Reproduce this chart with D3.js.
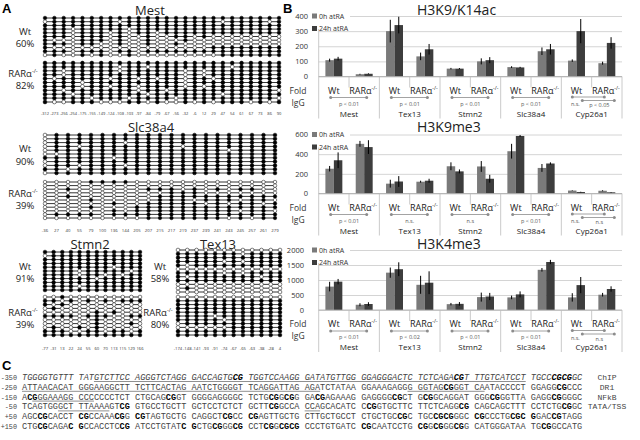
<!DOCTYPE html>
<html>
<head>
<meta charset="utf-8">
<script src="https://cdn.jsdelivr.net/npm/d3@7"></script>
<style>
  body { margin: 0; background: #fff; }
  svg text { font-family: "Open Sans", "Noto Sans", sans-serif; fill: #222; }
  svg text.mono { font-family: "Liberation Mono", "DejaVu Sans Mono", monospace; fill: #444; }
</style>
</head>
<body>
<svg width="640" height="440"></svg>
<script>
// ---------- A: bisulfite sequencing (1 = methylated CpG, 0 = unmethylated)
const mestSites = ['-312', '-273', '-256', '-254', '-175', '-155', '-149', '-124', '-108', '-103', '-97', '-84', '-79', '-67', '-56', '-32', '-6', '12', '29', '47', '54', '61', '67', '73', '86', '90'];
const mestWt = [
    '11111111111111111111111111',
    '01111111011111111110111101',
    '11111111111111111111111111',
    '11101111101111111111111111',
    '11101110101101111111111111',
    '11101110100100110100000000',
    '10001110100100010000000000',
    '11101100100100100000000000',
    '10000000000000000011111111',
    '11101110110111111111111111',
    '01001010010000000001111111',
];
const mestKo = [
    '11111111111111111111111111',
    '11111111011011111111011111',
    '11011111011111101011111111',
    '11011111111111101011111111',
    '10111110110101101101111111',
    '11110111111111101111111111',
    '11110110110111101011111111',
    '11011111110110111111111110',
    '11101111111011111110111111',
    '11111011101111011111111110',
    '10011100011010010101110101',
];
const mestPct = ['60%', '82%'];

const slcSites = ['-36', '27', '40', '55', '79', '100', '136', '144', '205', '207', '215', '217', '219', '237', '239', '241', '243', '245', '257', '261', '279'];
const slcWt = [
    '011111111111111111111',
    '011111111111111111111',
    '011111101111111111111',
    '011011111111011111111',
    '011111111111111101111',
    '001111111111111111111',
    '111111011111111111111',
    '011111111111111111111',
    '011011101111111111111',
    '110111111111111111111',
    '011111111111111111111',
];
const slcKo = [
    '000011110000000000000',
    '000000000000000000000',
    '001000000111010101100',
    '000000000001110000000',
    '001000000011111111111',
    '000010000011101110110',
    '000000100111110101101',
    '000010001111111111111',
    '000000101111111110110',
    '011110111111111111111',
    '000000000111111101011',
];
const slcPct = ['90%', '39%'];

const stmnSites = ['-77', '-31', '13', '22', '24', '55', '60', '70', '113', '115', '129', '166'];
const stmnWt = [
    '111111111111',
    '011111111111',
    '111111111111',
    '111111111111',
    '111111110111',
    '111101111101',
    '111101101011',
    '111111011111',
    '111111111111',
    '111101111111',
    '111111111111',
];
const stmnKo = [
    '001000000000',
    '110101010111',
    '101000000000',
    '010000000000',
    '000000101000',
    '111101110011',
    '000000100000',
    '000000100010',
    '010010100000',
    '111001101101',
    '111111111111',
];
const stmnPct = ['91%', '39%'];

const texSites = ['-174', '-148', '-141', '-93', '-91', '-74', '-67', '-65', '-63', '-38', '-28', '4'];
const texWt = [
    '000000000000',
    '111111101111',
    '111111111111',
    '111110101111',
    '101111111111',
    '000000000000',
    '111110101111',
    '101111111011',
    '111111111111',
    '000000000000',
    '010000000000',
    '000000000000',
];
const texKo = [
    '000000000000',
    '111111111111',
    '111111111111',
    '111111111111',
    '111111111111',
    '111101111111',
    '111110111111',
    '011111111111',
    '000000111111',
    '111111111111',
    '111111111111',
];
const texPct = ['58%', '80%'];

// ---------- B: ChIP fold over IgG (order: gene x genotype)
const genes = ['Mest', 'Tex13', 'Stmn2', 'Slc38a4', 'Cyp26a1'];
const genotypes = ['Wt', 'RARα'];
const series = ['0h atRA', '24h atRA'];

const acTicks = [0, 100, 200, 300, 400];
const ac0h = [108, 15, 300, 133, 52, 100, 62, 167, 105, 88];
const ac24h = [118, 18, 340, 180, 52, 108, 60, 180, 300, 222];
const acErr0h = [10, 3, 75, 25, 5, 20, 6, 25, 8, 10];
const acErr24h = [12, 3, 55, 35, 4, 20, 4, 35, 80, 38];
const acP = ['p < 0.01', 'p < 0.01', 'p < 0.01', 'p < 0.01', ['n.s.', 'p < 0.05']];

const me3Ticks = [0, 200, 400, 600];
const me30h = [252, 505, 100, 120, 277, 275, 430, 260, 30, 28];
const me324h = [338, 472, 122, 130, 225, 150, 585, 305, 15, 12];
const me3Err0h = [28, 30, 40, 10, 40, 55, 75, 40, 3, 5];
const me3Err24h = [80, 70, 55, 20, 20, 40, 10, 12, 3, 3];
const me3P = ['p < 0.01', 'n.s.', 'n.s', 'p < 0.01', ['n.s.', 'n.s']];

const k4Ticks = [0, 500, 1000, 1500, 2000];
const k40h = [780, 175, 1245, 840, 195, 430, 420, 1340, 420, 510];
const k424h = [945, 200, 1360, 910, 205, 450, 520, 1600, 830, 700];
const k4Err0h = [160, 50, 170, 300, 40, 150, 60, 60, 140, 60];
const k4Err24h = [90, 60, 230, 380, 60, 120, 100, 70, 270, 90];
const k4P = ['p < 0.01', 'p < 0.02', 'p < 0.01', 'p < 0.01', ['n.s.', 'n.s']];

// ---------- C: promoter sequence
const seqStarts = ['-350', '-250', '-150', '-50', '+50', '+150'];
const seqRows = [
    'TGGGGTGTTT TATGTCTTCC AGGGTCTAGG GACCAGTGCG TGGTCCAAGG GATATGTTGG GGAGGGACTC TCTCAGACGT TTGTCATCCT TGCCCGCGGC',
    'ATTAACACAT GGGAAGGCTT TCTTCACTAG AATCTGGGGT TCAGGATTAG AGATCTATAA GGAAAGAGGG GGTAGCGGGT CAATACCCCT GGAGGCGCCC',
    'ACGGGAAAGG CCCCCCCTCT CTGCAGCGGT GGGGAGGGGC TCTGCGGCGG GACGAGAAAG GAGGGGCGCT GCGGCAGGAT GGGCGGGTTA GAGGCGGGGC',
    'TCAGTGGGCT TTAAAAGTCG GTGCCTGCTT GCTCCTCTCT GCTTCGGCCA CCAGCACATC CCGGTGCTTC TTCTCAGGCG CAGCAGCTTT CCTCTGCGGC',
    'AGCCGCACCT CGCCAAACGG CGTAGTGCTG CAGGCTCGCC CGAGTTGCTG CTTGCTGCCT CTGCTGCCGC TGCCGCGGGC CGCCCTGCGC GGACCGTAGG',
    'CTGCGCAGAC GCCACCTCCG ATCCTGTATC GCTGCGGGCG CCTCGGCGCG CCCTGTGATC CGCAATCCTG CGGCGGGCGG CATGGGATAA TGCGGCCATG',
];
const seqNotes = ['ChIP', 'DR1', 'NFkB', 'TATA/TSS', '', ''];
const seqUnderline = [[[13, 89]], [[0, 52], [69, 81]], [[2, 12]], [[7, 15], [50, 52]], [], []];

const svg = d3.select('svg');

function panelLetter(t, x, y) {
    svg.append('text').attr('x', x).attr('y', y).text(t)
        .style('font-family', '"Liberation Sans", Arial, sans-serif')
        .style('font-weight', 'bold').style('font-size', '13px').style('fill', '#000');
}
panelLetter('A', 2, 13);
panelLetter('B', 283, 13);
panelLetter('C', 2, 370);

function koLabel(g, x, y, size) {
    const t = g.append('text').attr('x', x).attr('y', y).attr('text-anchor', 'middle')
        .style('font-size', size + 'px');
    t.append('tspan').text('RARα');
    t.append('tspan').text('-/-').attr('dy', -size * 0.4).style('font-size', (size * 0.6) + 'px');
    return t;
}

// ---------- A
const methPanels = [
    { title: 'Mest', sites: mestSites, wt: mestWt, ko: mestKo, pct: mestPct, x: [45, 279], wtY: [18, 55], koY: [63, 102], siteY: 114.5, titleX: 150, titleY: 15, labelX: 25, wtText: [35, 47], koText: [77, 89], siteSize: 4 },
    { title: 'Slc38a4', sites: slcSites, wt: slcWt, ko: slcKo, pct: slcPct, x: [45, 275], wtY: [135, 173], koY: [182, 218], siteY: 231.5, titleX: 151, titleY: 132, labelX: 25, wtText: [152, 165], koText: [197, 209], siteSize: 4.3 },
    { title: 'Stmn2', sites: stmnSites, wt: stmnWt, ko: stmnKo, pct: stmnPct, x: [45, 140], wtY: [252, 290], koY: [297, 335], siteY: 349.5, titleX: 90, titleY: 249, labelX: 25, wtText: [270, 282], koText: [316, 328], siteSize: 4.2 },
    { title: 'Tex13', sites: texSites, wt: texWt, ko: texKo, pct: texPct, x: [178, 280], wtY: [250, 292], koY: [297, 335], siteY: 349.5, titleX: 218, titleY: 249, labelX: 160, wtText: [270, 282], koText: [316, 328], siteSize: 4.2 },
];

methPanels.forEach((p) => {
    const g = svg.append('g').attr('class', 'meth');
    const x = d3.scalePoint().domain(d3.range(p.sites.length)).range(p.x);

    g.append('text').attr('x', p.titleX).attr('y', p.titleY).attr('text-anchor', 'middle')
        .style('font-size', '13px').text(p.title);

    [[p.wt, p.wtY], [p.ko, p.koY]].forEach(([rows, yr]) => {
        const y = d3.scalePoint().domain(d3.range(rows.length)).range(yr);
        const r = Math.min(y.step() * 0.49, x.step() * 0.3);
        const row = g.selectAll(null).data(rows).enter().append('g')
            .attr('transform', (d, i) => `translate(0,${y(i)})`);
        row.append('line')
            .attr('x1', x(0)).attr('x2', x(p.sites.length - 1))
            .attr('stroke', '#000').attr('stroke-width', 0.8);
        row.selectAll('circle').data((d) => d.split('')).enter().append('circle')
            .attr('cx', (d, j) => x(j)).attr('r', r)
            .attr('fill', (d) => (d === '1' ? '#000' : '#fff'))
            .attr('stroke', '#000').attr('stroke-width', 0.5);
    });

    g.selectAll('.site').data(p.sites).enter().append('text')
        .attr('class', 'site')
        .attr('x', (d, i) => x(i)).attr('y', p.siteY).attr('text-anchor', 'middle')
        .style('font-size', p.siteSize + 'px').style('fill', '#333').text((d) => d);

    g.append('text').attr('x', p.labelX).attr('y', p.wtText[0]).attr('text-anchor', 'middle')
        .style('font-size', '9.5px').text('Wt');
    g.append('text').attr('x', p.labelX).attr('y', p.wtText[1]).attr('text-anchor', 'middle')
        .style('font-size', '9.5px').text(p.pct[0]);
    koLabel(g, p.labelX - 2, p.koText[0], 9.5);
    g.append('text').attr('x', p.labelX).attr('y', p.koText[1]).attr('text-anchor', 'middle')
        .style('font-size', '9.5px').text(p.pct[1]);
});

// ---------- B
const chartPanels = [
    { title: 'H3K9/K14ac', ticks: acTicks, v0: ac0h, v24: ac24h, e0: acErr0h, e24: acErr24h, p: acP, top: 16, base: 76.5, titleY: 14.5, tickX: 308 },
    { title: 'H3K9me3', ticks: me3Ticks, v0: me30h, v24: me324h, e0: me3Err0h, e24: me3Err24h, p: me3P, top: 134.5, base: 193.5, titleY: 131.5, tickX: 308 },
    { title: 'H3K4me3', ticks: k4Ticks, v0: k40h, v24: k424h, e0: k4Err0h, e24: k4Err24h, p: k4P, top: 250, base: 310, titleY: 248.5, tickX: 304 },
];

const x0 = d3.scaleBand().domain(genes).range([318.7, 622]);
const x1 = d3.scaleBand().domain(genotypes).range([0, x0.bandwidth()]);
const x2 = d3.scaleBand().domain(series).range([0, x1.bandwidth()]).paddingOuter(0.79);
const color = d3.scaleOrdinal().domain(series).range(['#7a7a7a', '#3d3d3d']);
const [left, right] = x0.range();
const lineColor = '#bdbdbd';

chartPanels.forEach((p) => {
    const g = svg.append('g').attr('class', 'chip');
    const y = d3.scaleLinear().domain([0, d3.max(p.ticks)]).range([p.base, p.top]);

    g.append('text').attr('x', 417).attr('y', p.titleY)
        .style('font-size', '14px').text(p.title);

    // gridlines
    g.append('g').attr('transform', `translate(${left},0)`)
        .call(d3.axisLeft(y).tickValues(p.ticks).tickSize(-(right - left)).tickFormat(''))
        .call((a) => a.select('.domain').remove())
        .selectAll('line').attr('stroke', '#c9c9c9').attr('stroke-width', 0.8);

    // tick labels
    g.append('g').attr('transform', `translate(${p.tickX},0)`)
        .call(d3.axisLeft(y).tickValues(p.ticks).tickSize(0).tickPadding(0).tickFormat(d3.format('d')))
        .call((a) => a.select('.domain').remove())
        .selectAll('text').style('font-size', '7.5px').style('fill', '#333')
        .style('font-family', '"Open Sans", sans-serif');

    // bars
    const cells = genes.flatMap((gn, gi) => genotypes.map((gt, ti) => ({ gene: gn, geno: gt, k: gi * 2 + ti })));
    const bars = cells.flatMap((c) => series.map((s, si) => ({
        ...c,
        series: s,
        value: si ? p.v24[c.k] : p.v0[c.k],
        err: si ? p.e24[c.k] : p.e0[c.k],
    })));
    const bx = (d) => x0(d.gene) + x1(d.geno) + x2(d.series);

    g.selectAll('.bar').data(bars).enter().append('rect')
        .attr('class', 'bar')
        .attr('x', bx).attr('width', x2.bandwidth())
        .attr('y', (d) => y(d.value)).attr('height', (d) => y(0) - y(d.value))
        .attr('fill', (d) => color(d.series));

    g.selectAll('.err').data(bars).enter().append('line')
        .attr('class', 'err')
        .attr('x1', (d) => bx(d) + x2.bandwidth() / 2).attr('x2', (d) => bx(d) + x2.bandwidth() / 2)
        .attr('y1', (d) => y(d.value + d.err)).attr('y2', (d) => y(Math.max(0, d.value - d.err)))
        .attr('stroke', '#000').attr('stroke-width', 1);

    // axis frame and category separators
    g.append('line').attr('x1', left).attr('x2', left).attr('y1', p.top).attr('y2', p.base + 42)
        .attr('stroke', lineColor).attr('stroke-width', 0.8);
    g.append('line').attr('x1', left).attr('x2', right).attr('y1', y(0)).attr('y2', y(0))
        .attr('stroke', '#aaa').attr('stroke-width', 0.8);
    g.selectAll('.gsep').data(genes.slice(1).map((d) => x0(d)).concat([right])).enter().append('line')
        .attr('class', 'gsep')
        .attr('x1', (d) => d).attr('x2', (d) => d).attr('y1', p.base).attr('y2', p.base + 42)
        .attr('stroke', lineColor).attr('stroke-width', 0.8);
    g.selectAll('.isep').data(genes).enter().append('line')
        .attr('class', 'isep')
        .attr('x1', (d) => x0(d) + x1('RARα')).attr('x2', (d) => x0(d) + x1('RARα'))
        .attr('y1', p.base).attr('y2', p.base + 11)
        .attr('stroke', lineColor).attr('stroke-width', 0.8);

    // category labels
    cells.forEach((c) => {
        const cx = x0(c.gene) + x1(c.geno) + x1.bandwidth() / 2;
        if (c.geno === 'Wt') {
            g.append('text').attr('x', cx).attr('y', p.base + 17).attr('text-anchor', 'middle')
                .style('font-size', '9px').text('Wt');
        } else {
            koLabel(g, cx - 1, p.base + 17, 9);
        }
    });
    g.append('text').attr('x', 298).attr('y', p.base + 17).attr('text-anchor', 'middle')
        .style('font-size', '8.5px').style('fill', '#333').text('Fold');
    g.append('text').attr('x', 298).attr('y', p.base + 29).attr('text-anchor', 'middle')
        .style('font-size', '8.5px').style('fill', '#333').text('IgG');

    genes.forEach((gn, gi) => {
        const gx = x0(gn);
        const pv = p.p[gi];
        const links = Array.isArray(pv)
            ? [{ a: 11, b: 43, dy: 20.5 }, { a: 21, b: 53, dy: 24 }]
            : [{ a: 12, b: 48, dy: 21 }];
        links.forEach((l) => {
            g.append('line').attr('x1', gx + l.a).attr('x2', gx + l.b)
                .attr('y1', p.base + l.dy).attr('y2', p.base + l.dy)
                .attr('stroke', '#8c8c8c').attr('stroke-width', 0.8);
            g.selectAll(null).data([l.a, l.b]).enter().append('circle')
                .attr('cx', (d) => gx + d).attr('cy', p.base + l.dy).attr('r', 1.5)
                .attr('fill', '#8c8c8c');
        });
        if (Array.isArray(pv)) {
            g.append('text').attr('x', gx + 14).attr('y', p.base + 29.5).attr('text-anchor', 'middle')
                .style('font-size', '5.5px').style('fill', '#555').text(pv[0]);
            g.append('text').attr('x', gx + 38).attr('y', p.base + 30.5).attr('text-anchor', 'middle')
                .style('font-size', '5.5px').style('fill', '#555').text(pv[1]);
        } else {
            g.append('text').attr('x', gx + x0.bandwidth() / 2).attr('y', p.base + 29)
                .attr('text-anchor', 'middle')
                .style('font-size', '5.5px').style('fill', '#555').text(pv);
        }
        g.append('text').attr('x', gx + x0.bandwidth() / 2).attr('y', p.base + 40)
            .attr('text-anchor', 'middle').style('font-size', '8px').text(gn);
    });

    // legend
    const lg = g.append('g');
    lg.append('rect').attr('x', 310).attr('y', p.top - 5).attr('width', 40).attr('height', 18).attr('fill', '#fff');
    series.forEach((s, i) => {
        lg.append('rect').attr('x', 312).attr('y', p.top - 2.5 + i * 12.5).attr('width', 5).attr('height', 5)
            .attr('fill', color(s));
        lg.append('text').attr('x', 319).attr('y', p.top + 2.5 + i * 12.5)
            .style('font-size', '7px').style('fill', '#333').text(s);
    });
});

// ---------- C
const cw = 5.14;
const xs = d3.scaleLinear().domain([0, 109]).range([22, 22 + 109 * cw]);
const ys = d3.scalePoint().domain(d3.range(seqRows.length)).range([380, 429]);

seqRows.forEach((row, r) => {
    const bases = row.replace(/ /g, '');
    const bold = bases.split('').map((c, i) => (c === 'C' && bases[i + 1] === 'G') || (c === 'G' && bases[i - 1] === 'C'));
    const g = svg.append('g').attr('class', 'seq');

    g.append('text').attr('class', 'mono').attr('x', 17).attr('y', ys(r)).attr('text-anchor', 'end')
        .style('font-size', '6.8px').text(seqStarts[r]);

    d3.range(10).forEach((b) => {
        const t = g.append('text').attr('class', 'mono').attr('x', xs(b * 11)).attr('y', ys(r))
            .style('font-size', '8.55px').style('font-style', r === 0 ? 'italic' : 'normal');
        let i = b * 10;
        while (i < b * 10 + 10) {
            let j = i;
            while (j < b * 10 + 10 && bold[j] === bold[i]) j++;
            t.append('tspan').text(bases.slice(i, j))
                .style('font-weight', bold[i] ? 'bold' : 'normal')
                .style('fill', bold[i] ? '#000' : '#444');
            i = j;
        }
    });

    seqUnderline[r].forEach(([a, b]) => {
        g.append('line')
            .attr('x1', xs(a + Math.floor(a / 10))).attr('x2', xs(b + Math.floor(b / 10) + 1))
            .attr('y1', ys(r) + 1.5).attr('y2', ys(r) + 1.5)
            .attr('stroke', '#444').attr('stroke-width', 0.6);
    });

    g.append('text').attr('class', 'mono').attr('x', 607).attr('y', ys(r)).attr('text-anchor', 'middle')
        .style('font-size', '8px').text(seqNotes[r]);
});
</script>
</body>
</html>
